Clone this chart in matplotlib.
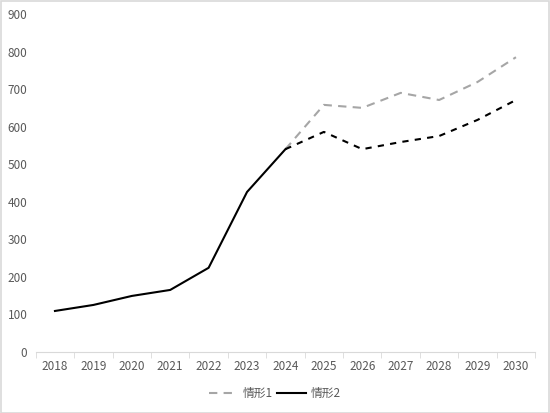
import matplotlib.pyplot as plt
from matplotlib.lines import Line2D

plt.rcParams['font.family'] = ['Noto Sans CJK SC', 'DejaVu Sans']

years = ['2018', '2019', '2020', '2021', '2022', '2023', '2024',
         '2025', '2026', '2027', '2028', '2029', '2030']
# 情形1 : seulement la partie prévision (2024 -> 2030)
s1_years = years[6:]
s1 = [540, 658, 650, 690, 671, 719, 785]
# 情形2 : historique + prévision
s2_hist = [109, 125, 149, 165, 224, 426, 540]
s2_prev = [540, 586, 540, 559, 575, 618, 671]

fig = plt.figure(figsize=(5.5, 4.13), dpi=100)
ax = fig.add_axes([0.065, 0.148, 0.908, 0.818])

x = list(range(len(years)))
ax.plot(x[6:], s1, color='#a6a6a6', lw=1.5, ls=(0, (4, 3)))
ax.plot(x[:7], s2_hist, color='black', lw=1.5)
ax.plot(x[6:], s2_prev, color='black', lw=1.5, ls=(0, (3, 3)))

ax.set_xlim(-0.5, len(years) - 0.5)
ax.set_ylim(0, 900)
ax.set_yticks(range(0, 901, 100))
ax.set_xticks(x)
ax.set_xticklabels(years)
ax.set_xticks([i - 0.5 for i in range(len(years) + 1)], minor=True)

for s in ['top', 'right', 'left']:
    ax.spines[s].set_visible(False)
ax.spines['bottom'].set_color('#d9d9d9')
ax.tick_params(axis='x', which='major', length=0, pad=6, labelsize=8.5, colors='#595959')
ax.tick_params(axis='x', which='minor', length=4, color='#d9d9d9')
ax.tick_params(axis='y', length=0, pad=6, labelsize=8.5, colors='#595959')

handles = [Line2D([], [], color='#a6a6a6', lw=1.5, ls=(0, (4, 3))),
           Line2D([], [], color='black', lw=1.5)]
fig.legend(handles, ['情形1', '情形2'], loc='center', bbox_to_anchor=(0.5, 0.048),
           ncol=2, frameon=False, fontsize=8.5, labelcolor='#595959',
           handlelength=2.4, columnspacing=0.4, handletextpad=0.4)

fig.patches.append(plt.Rectangle((0.001, 0.001), 0.997, 0.997, transform=fig.transFigure,
                                 fill=False, edgecolor='#d9d9d9', lw=1.2))

fig.savefig('out.png', dpi=100)
